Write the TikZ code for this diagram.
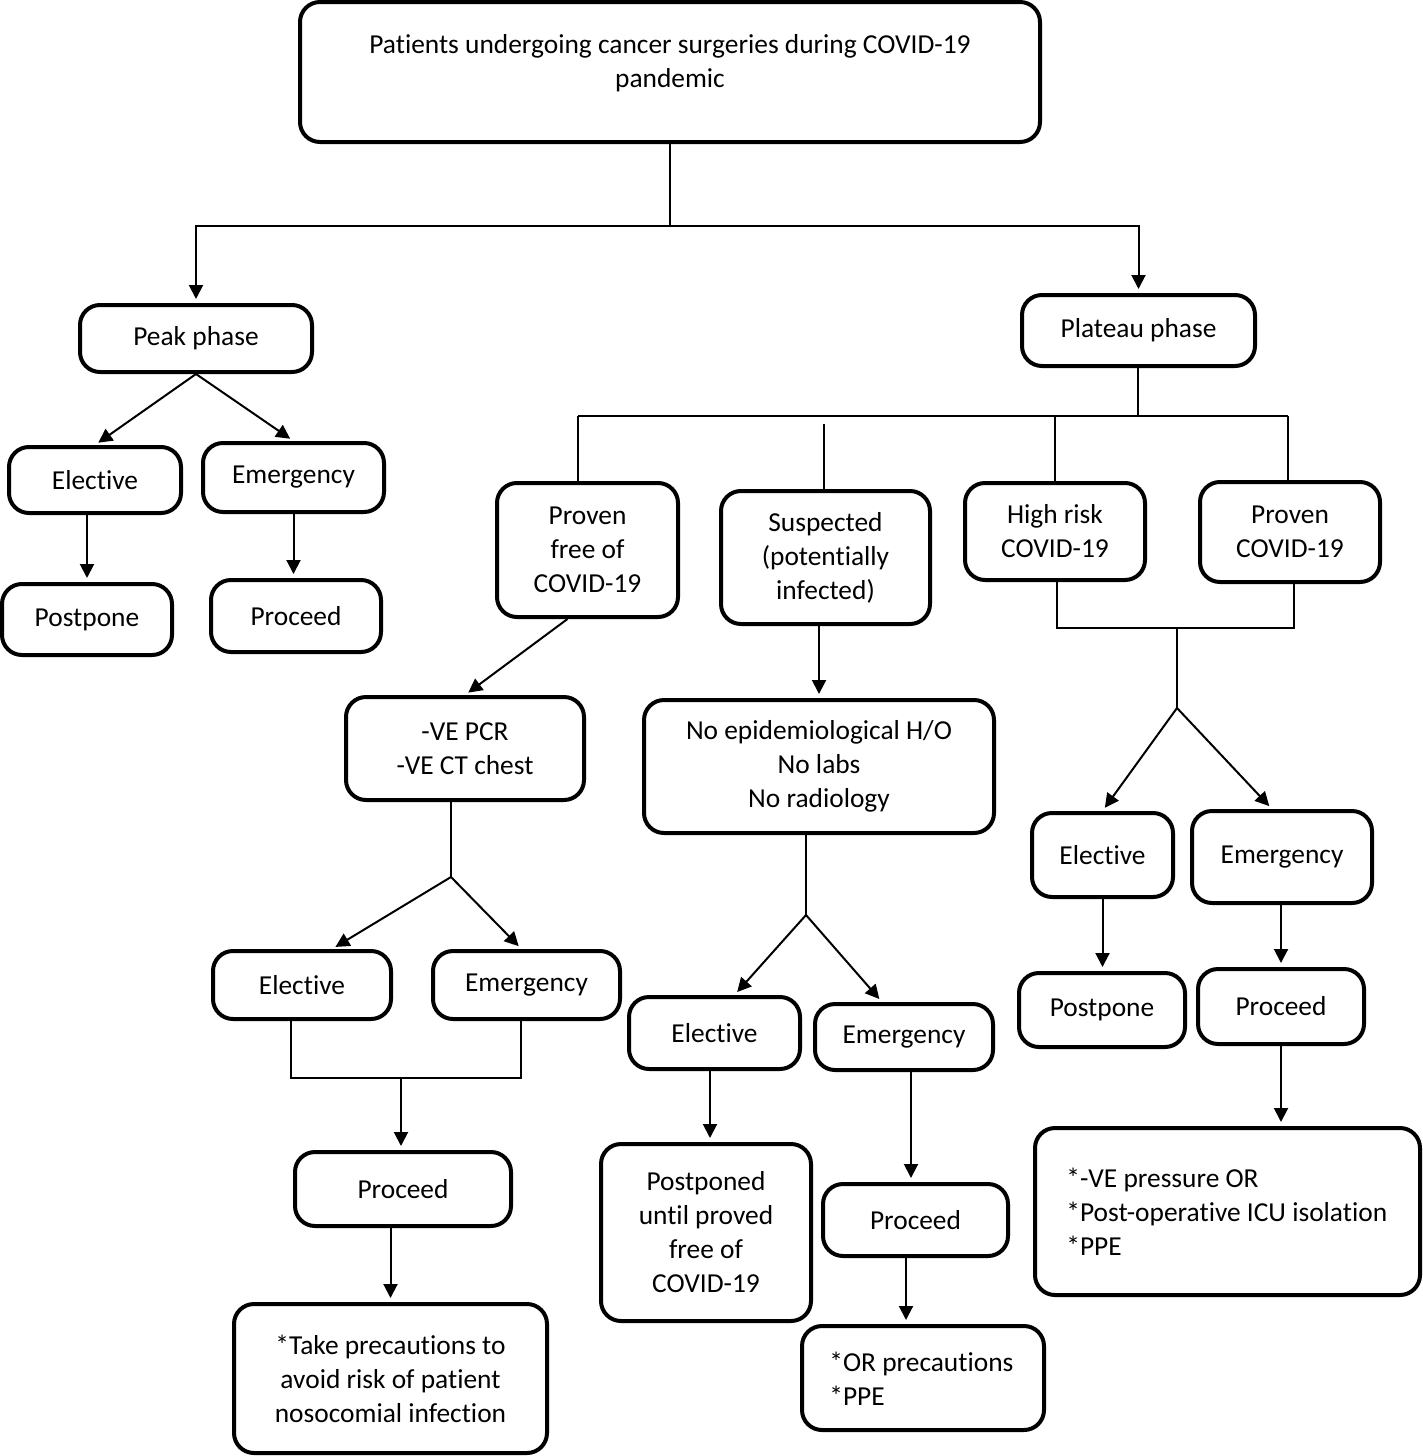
\documentclass[tikz,border=0pt]{standalone}
\usepackage{fontspec}
\setmainfont{Carlito}[RawFeature=-liga]
\usetikzlibrary{arrows.meta,calc}
\begin{document}
\begin{tikzpicture}[x=0.5pt,y=-0.5pt,
  box/.style={draw, line width=2pt, rounded corners=10pt, align=center, inner sep=0pt,
    font=\fontsize{13.7}{17}\selectfont},
  txt/.style={align=center, inner sep=0pt, font=\fontsize{13.7}{17}\selectfont},
  conn/.style={line width=1pt},
  arr/.style={line width=1pt, -{Triangle[length=7pt,width=7pt]}, shorten >=2pt}
]
\useasboundingbox (0,0) rectangle (1423,1456);
% top
\node[box, minimum width=370pt, minimum height=70pt] (top) at (670,72) {};
\node[txt] (toptxt) at (670,63) {Patients undergoing cancer surgeries during COVID-19\\pandemic};
% level 1
\node[box, minimum width=116pt, minimum height=33.5pt] (peak) at (196,338.5) {Peak phase};
\node[box, minimum width=116.5pt, minimum height=35.5pt] (plat) at (1138.5,330.5) {Plateau phase};
% peak branch
\node[box, minimum width=86pt, minimum height=33pt] (el1) at (95,480) {Elective};
\node[box, minimum width=90.5pt, minimum height=34.5pt] (em1) at (293.5,477.5) {Emergency};
\node[box, minimum width=85pt, minimum height=35.5pt] (pp1) at (87,619.5) {Postpone};
\node[box, minimum width=85pt, minimum height=36pt] (pr1) at (296,616) {Proceed};
% plateau categories
\node[box, minimum width=90.5pt, minimum height=67pt] (pf) at (587.5,550) {Proven\\free of\\COVID-19};
\node[box, minimum width=104.5pt, minimum height=66.5pt] (sus) at (825.5,557.5) {Suspected\\(potentially\\infected)};
\node[box, minimum width=90pt, minimum height=48.5pt] (hr) at (1055,531.5) {High risk\\COVID-19};
\node[box, minimum width=90pt, minimum height=50pt] (pc) at (1290,532) {Proven\\COVID-19};
% right branch
\node[box, minimum width=70.5pt, minimum height=42pt] (el4) at (1102.5,855) {Elective};
\node[box, minimum width=90pt, minimum height=46pt] (em4) at (1282,857) {Emergency};
\node[box, minimum width=83pt, minimum height=37pt] (pp4) at (1102,1010) {Postpone};
\node[box, minimum width=83pt, minimum height=37.5pt] (pr4) at (1281,1006.5) {Proceed};
\node[box, minimum width=192.5pt, minimum height=83.5pt] (fin4) at (1227.5,1211.5) {};
\node[txt, anchor=west, align=left] (fin4txt) at (1066,1212) {*-VE pressure OR\\*Post-operative ICU isolation\\*PPE};
% proven free branch
\node[box, minimum width=119pt, minimum height=51.5pt] (pcr) at (465,748.5) {-VE PCR\\-VE CT chest};
\node[box, minimum width=89pt, minimum height=34pt] (el2) at (302,985) {Elective};
\node[box, minimum width=93.5pt, minimum height=34pt] (em2) at (526.5,985) {Emergency};
\node[box, minimum width=108pt, minimum height=37pt] (pr2) at (403,1189) {Proceed};
\node[box, minimum width=156.5pt, minimum height=74.5pt] (fin2) at (390.5,1378.5) {*Take precautions to\\avoid risk of patient\\nosocomial infection};
% suspected branch
\node[box, minimum width=175pt, minimum height=66.5pt] (noepi) at (819,766.5) {No epidemiological H/O\\No labs\\No radiology};
\node[box, minimum width=85.5pt, minimum height=36pt] (el3) at (714.5,1033) {Elective};
\node[box, minimum width=89pt, minimum height=33pt] (em3) at (904,1037) {Emergency};
\node[box, minimum width=105pt, minimum height=88.5pt] (pp3) at (706,1232.5) {Postponed\\until proved\\free of\\COVID-19};
\node[box, minimum width=92.5pt, minimum height=36pt] (pr3) at (915.5,1220) {Proceed};
\node[box, minimum width=121pt, minimum height=52pt] (fin3) at (923,1378) {};
\node[txt, anchor=west, align=left] (fin3txt) at (829,1379) {*OR precautions\\*PPE};

% connectors: top
\coordinate (j0) at (670,226);
\draw[conn] (top.south) -- (j0);
\draw[arr] (j0) -| (peak.north);
\draw[arr] (j0) -| (plat.north);
% peak
\draw[arr] (peak.south) -- (el1.north);
\draw[arr] (peak.south) -- (em1.north);
\draw[arr] (el1.south -| pp1.north) -- (pp1.north);
\draw[arr] (em1.south) -- (em1.south |- pr1.north);
% plateau
\coordinate (j1) at (1138,416);
\coordinate (hL) at (578,416);
\coordinate (hR) at (1288,416);
\coordinate (gS) at (824,424);
\coordinate (gH) at (1055,416);
\draw[conn] (j1 |- plat.south) -- (j1);
\draw[conn] (hL) -- (hR);
\draw[conn] (hL) -- (hL |- pf.north);
\draw[conn] (gS) -- (gS |- sus.north);
\draw[conn] (gH) -- (gH |- hr.north);
\draw[conn] (hR) -- (hR |- pc.north);
% high risk / proven
\coordinate (b1) at (1057,628);
\coordinate (b2) at (1294,628);
\coordinate (m2) at (1177,628);
\coordinate (j2) at (1177,708);
\draw[conn] (b1 |- hr.south) -- (b1) -- (b2) -- (b2 |- pc.south);
\draw[conn] (m2) -- (j2);
\draw[arr] (j2) -- (el4.north);
\draw[arr] (j2) -- ($(em4.north)+(-10,0)$);
\draw[arr] (el4.south) -- (el4.south |- pp4.north);
\draw[arr] (pr4.north |- em4.south) -- (pr4.north);
\draw[arr] (pr4.south) -- (pr4.south |- fin4.north);
% proven free
\draw[arr] ($(pf.south)+(-20,0)$) -- (pcr.north);
\coordinate (j3) at (451,877);
\draw[conn] (j3 |- pcr.south) -- (j3);
\draw[arr] (j3) -- ($(el2.north)+(30,0)$);
\draw[arr] (j3) -- ($(em2.north)+(-5,0)$);
\coordinate (k1) at (291,1078);
\coordinate (k2) at (521,1078);
\coordinate (k3) at (401,1078);
\draw[conn] (k1 |- el2.south) -- (k1) -- (k2) -- (k2 |- em2.south);
\draw[arr] (k3) -- (k3 |- pr2.north);
\draw[arr] (fin2.north |- pr2.south) -- (fin2.north);
% suspected
\draw[arr] (noepi.north |- sus.south) -- (noepi.north);
\coordinate (j4) at (806,915);
\draw[conn] (j4 |- noepi.south) -- (j4);
\draw[arr] (j4) -- ($(el3.north)+(20,0)$);
\draw[arr] (j4) -- ($(em3.north)+(-22,0)$);
\coordinate (q1) at (710,1069);
\draw[arr] (q1 |- el3.south) -- (q1 |- pp3.north);
\coordinate (q2) at (911,1070);
\draw[arr] (q2 |- em3.south) -- (q2 |- pr3.north);
\coordinate (q3) at (906,1256);
\draw[arr] (q3 |- pr3.south) -- (q3 |- fin3.north);
\end{tikzpicture}
\end{document}
